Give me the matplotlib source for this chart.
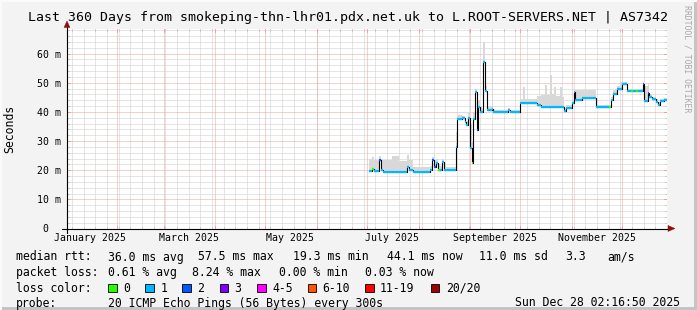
import numpy as np
import pandas as pd
import matplotlib
matplotlib.use('Agg')
import matplotlib.pyplot as plt
import matplotlib.dates as mdates
from matplotlib.patches import Polygon, Rectangle

# ---------------- data ----------------
title = "Last 360 Days from smokeping-thn-lhr01.pdx.net.uk to L.ROOT-SERVERS.NET | AS7342"
t_start = '2025-01-02T02:16:50'
t_end = '2025-12-28T02:16:50'

times = ['2025-07-02T12', '2025-07-04T00', '2025-07-05T07', '2025-07-08T07', '2025-07-09T12',
         '2025-07-10T17', '2025-07-16T00', '2025-07-20T00', '2025-07-25T00', '2025-07-26T07',
         '2025-07-28T17', '2025-08-08T00', '2025-08-09T00', '2025-08-10T07', '2025-08-11T12',
         '2025-08-12T17', '2025-08-14T00', '2025-08-15T00', '2025-08-16T00', '2025-08-23T12',
         '2025-08-24T07', '2025-08-27T00', '2025-08-29T00', '2025-08-29T12', '2025-08-30T22',
         '2025-08-31T22', '2025-09-01T22', '2025-09-02T22', '2025-09-03T22', '2025-09-04T22',
         '2025-09-05T22', '2025-09-06T22', '2025-09-07T22', '2025-09-08T22', '2025-09-09T22',
         '2025-09-10T22', '2025-09-13T22', '2025-09-14T22', '2025-09-16T00', '2025-09-23T17',
         '2025-09-25T00', '2025-09-30T22', '2025-10-02T22', '2025-10-03T22', '2025-10-11T00',
         '2025-10-13T07', '2025-10-15T22', '2025-10-16T22', '2025-10-18T22', '2025-10-19T22',
         '2025-10-21T07', '2025-10-22T07', '2025-10-24T22', '2025-10-25T22', '2025-10-27T00',
         '2025-10-28T12', '2025-10-31T22', '2025-11-02T07', '2025-11-03T00', '2025-11-06T22',
         '2025-11-15T19', '2025-11-23T12', '2025-11-24T12', '2025-11-25T17', '2025-11-27T22',
         '2025-11-29T22', '2025-11-30T22', '2025-12-04T07', '2025-12-06T12', '2025-12-07T12',
         '2025-12-09T12', '2025-12-10T12', '2025-12-13T12', '2025-12-14T07', '2025-12-14T22',
         '2025-12-16T12', '2025-12-17T12', '2025-12-18T22', '2025-12-21T12', '2025-12-22T22',
         '2025-12-23T22', '2025-12-26T00']

median_ms = [19.8, 20.5, 19.8, 23.5, 20.2,
             19.4, 19.4, 19.4, 21.2, 20.0,
             19.4, 20.0, 23.5, 21.0, 22.5,
             20.0, 20.0, 22.8, 20.0, 28.0,
             37.5, 37.8, 36.5, 35.4, 38.0,
             27.5, 22.3, 37.5, 46.8, 33.7,
             41.7, 40.0, 40.0, 57.1, 47.0,
             40.6, 41.1, 40.0, 39.8, 40.6,
             39.8, 42.9, 42.9, 42.9, 42.3,
             41.7, 41.7, 41.7, 41.7, 41.7,
             41.7, 41.7, 41.7, 41.7, 40.3,
             41.5, 42.9, 46.9, 44.0, 44.8,
             41.7, 41.7, 44.0, 46.3, 47.7,
             47.7, 49.7, 47.2, 47.2, 47.2,
             47.2, 47.2, 49.7, 43.8, 43.8,
             46.5, 45.1, 44.3, 43.4, 42.3,
             43.8, 44.1]

smoke_top_ms = [24.0, 24.5, 23.5, 25.0, 24.0,
                23.5, 24.8, 23.0, 25.2, 23.5,
                21.0, 21.5, 24.5, 23.5, 24.0,
                22.0, 21.5, 24.0, 21.0, 33.0,
                38.8, 38.5, 38.0, 37.0, 40.0,
                36.0, 30.0, 40.0, 48.0, 36.0,
                44.0, 42.0, 41.0, 64.0, 49.0,
                42.0, 66.6, 41.0, 40.8, 41.2,
                40.8, 44.5, 48.6, 44.5, 45.5,
                45.7, 49.1, 45.7, 52.6, 46.0,
                48.6, 45.5, 48.6, 45.0, 41.5,
                42.5, 44.0, 48.0, 47.4, 47.4,
                42.5, 42.5, 45.0, 47.5, 49.0,
                50.3, 50.3, 48.0, 48.0, 48.0,
                48.0, 48.0, 49.7, 49.7, 49.0,
                49.7, 46.0, 45.1, 44.5, 43.5,
                44.5, 44.8]

loss_class = [1, 0, 1, 2, 1,
              1, 1, 1, 1, 1,
              1, 1, 2, 2, 1,
              0, 1, 1, 1, 1,
              1, 1, 1, 1, 1,
              1, 0, 1, 1, 2,
              1, 1, 1, 1, 1,
              1, 1, 1, 1, 1,
              1, 1, 1, 1, 1,
              1, 1, 1, 1, 1,
              1, 1, 1, 1, 1,
              1, 1, 1, 1, 1,
              1, 0, 1, 1, 1,
              1, 1, 1, 0, 1,
              0, 1, 2, 1, 1,
              2, 1, 1, 1, 1,
              1, 1]

y_ticks = [0, 10, 20, 30, 40, 50, 60]
y_tick_labels = ['0  ', '10 m', '20 m', '30 m', '40 m', '50 m', '60 m']
y_max = 68.6
month_labels = ['January 2025', 'March 2025', 'May 2025', 'July 2025', 'September 2025', 'November 2025']
month_label_dates = ['2025-01-16', '2025-03-16', '2025-05-16', '2025-07-16', '2025-09-16', '2025-11-16']

loss_names = ['0', '1', '2', '3', '4-5', '6-10', '11-19', '20/20']
loss_colors = ['#26ff00', '#00b8ff', '#0059ff', '#7e00ff', '#ff00ff', '#ff5500', '#ff0000', '#a10000']

rtt_row = [('median rtt:', 15.6), ('36.0 ms avg', 107.6), ('57.5 ms max', 197.8), ('19.3 ms min', 293.3),
           ('44.1 ms now', 386.7), ('11.0 ms sd', 479.0), ('3.3', 565.0), ('am/s', 607.0)]
loss_row = [('packet loss:', 15.6), ('0.61 % avg', 107.6), ('8.24 % max', 192.0), ('0.00 % min', 279.0),
            ('0.03 % now', 365.3)]
loss_box_x = [108, 145.3, 182, 219.6, 257, 307.6, 365, 430.7]
probe_text = '20 ICMP Echo Pings (56 Bytes) every 300s'
stamp_text = 'Sun Dec 28 02:16:50 2025'

# ---------------- figure ----------------
W, H = 697, 310
MONO = 'DejaVu Sans Mono'
fig = plt.figure(figsize=(W / 100, H / 100), dpi=100)
fig.patch.set_facecolor('#f3f3f3')

def fx(px):
    return px / W

def fy(py):
    return 1 - py / H

ax_left, ax_top, ax_w, ax_h = 67, 28.5, 600, 200
ax = fig.add_axes([fx(ax_left), fy(ax_top + ax_h), ax_w / W, ax_h / H])
ax.set_facecolor('#ffffff')
for s in ax.spines.values():
    s.set_visible(False)

x0 = pd.Timestamp(t_start)
x1 = pd.Timestamp(t_end)
ax.set_xlim(x0, x1)
ax.set_ylim(0, y_max)

# grid
dot = (0, (1, 1))
minor_c = '#cccccc'
major_c = '#f2a0a0'
weeks = pd.date_range(x0.normalize(), x1, freq='W-SUN')
months = pd.date_range('2025-01-01', x1, freq='MS')
months = months[months > x0]
for d in weeks:
    ax.axvline(d, color=minor_c, lw=0.72, ls=dot, zorder=0.5)
    ax.plot([d, d], [0, 2 / ax_h], transform=ax.get_xaxis_transform(), color=minor_c, lw=0.72, zorder=0.6)
    ax.plot([d, d], [1 - 2 / ax_h, 1], transform=ax.get_xaxis_transform(), color=minor_c, lw=0.72, zorder=0.6)
for d in months:
    ax.axvline(d, color=major_c, lw=0.72, ls=dot, zorder=0.7)
    ax.plot([d, d], [0, 3 / ax_h], transform=ax.get_xaxis_transform(), color=major_c, lw=0.72, zorder=0.8)
    ax.plot([d, d], [1 - 3 / ax_h, 1], transform=ax.get_xaxis_transform(), color=major_c, lw=0.72, zorder=0.8)
for v in range(2, int(y_max) + 1, 2):
    major = (v % 10 == 0)
    c = major_c if major else minor_c
    ax.axhline(v, color=c, lw=0.72, ls=dot, zorder=0.7 if major else 0.5)
    L = 3 if major else 2
    ax.plot([0, L / ax_w], [v, v], transform=ax.get_yaxis_transform(), color=c, lw=0.72, zorder=0.8)
    ax.plot([1 - L / ax_w, 1], [v, v], transform=ax.get_yaxis_transform(), color=c, lw=0.72, zorder=0.8)

# data
t = pd.to_datetime(times)
t_next = list(t[1:]) + [x1]
t_ext = list(t) + [x1]
med_ext = median_ms + [median_ms[-1]]
hi_ext = smoke_top_ms + [smoke_top_ms[-1]]

ax.fill_between(t_ext, med_ext, hi_ext, step='post', color='#d8d8d8', lw=0, zorder=2)
ax.step(t_ext, med_ext, where='post', color='#000000', lw=0.8, zorder=3)
ax.hlines(median_ms, mdates.date2num(t), mdates.date2num(t_next),
          colors=[loss_colors[i] for i in loss_class], lw=1.6, zorder=4, capstyle='butt')

# ticks
ax.set_yticks(y_ticks, y_tick_labels)
ax.set_xticks(pd.to_datetime(month_label_dates), month_labels)
ax.tick_params(axis='both', length=0, labelsize=7.1, colors='#000000')
ax.tick_params(axis='y', pad=4.6)
ax.tick_params(axis='x', pad=3.4)
for lab in ax.get_xticklabels() + ax.get_yticklabels():
    lab.set_fontfamily(MONO)

# axes lines with arrows
ax.plot([-5 / ax_w, 1 + 2 / ax_w], [0, 0], transform=ax.transAxes, color='black', lw=0.8, clip_on=False, zorder=6)
ax.plot([0, 0], [-4.5 / ax_h, 1 + 2 / ax_h], transform=ax.transAxes, color='black', lw=0.8, clip_on=False, zorder=6)
arrow_c = '#8b1010'
ax.add_patch(Polygon([(1 + 1 / ax_w, 3 / ax_h), (1 + 8 / ax_w, 0), (1 + 1 / ax_w, -3 / ax_h)],
                     closed=True, transform=ax.transAxes, facecolor=arrow_c, edgecolor=arrow_c, lw=0.3,
                     clip_on=False, zorder=7))
ax.add_patch(Polygon([(-3 / ax_w, 1 + 1 / ax_h), (0, 1 + 7.5 / ax_h), (3 / ax_w, 1 + 1 / ax_h)],
                     closed=True, transform=ax.transAxes, facecolor=arrow_c, edgecolor=arrow_c, lw=0.3,
                     clip_on=False, zorder=7))

# texts
fig.text(fx(348.5), fy(17), title, ha='center', va='center', family=MONO, fontsize=9.5, color='#000000')
fig.text(fx(10), fy(128.5), 'Seconds', rotation=90, ha='center', va='center', family=MONO, fontsize=8.3)
fig.text(fx(687), fy(5), 'RRDTOOL / TOBI OETIKER', rotation=270, ha='center', va='top', family=MONO,
         fontsize=5.9, color='#a8a8a8')

row_y = [257, 272.5, 288, 303]
for s, x in rtt_row:
    fig.text(fx(x), fy(row_y[0]), s, ha='left', va='center', family=MONO, fontsize=8.3)
for s, x in loss_row:
    fig.text(fx(x), fy(row_y[1]), s, ha='left', va='center', family=MONO, fontsize=8.3)
fig.text(fx(15.6), fy(row_y[2]), 'loss color:', ha='left', va='center', family=MONO, fontsize=8.3)
box = 8.5
for name, c, bx in zip(loss_names, loss_colors, loss_box_x):
    fig.add_artist(Rectangle((fx(bx), fy(row_y[2] + box / 2)), box / W, box / H, transform=fig.transFigure,
                             facecolor=c, edgecolor='black', lw=0.6))
    fig.text(fx(bx + 15), fy(row_y[2]), name, ha='left', va='center', family=MONO, fontsize=8.3)
fig.text(fx(15.6), fy(row_y[3]), 'probe:', ha='left', va='center', family=MONO, fontsize=8.3)
fig.text(fx(107.6), fy(row_y[3]), probe_text, ha='left', va='center', family=MONO, fontsize=8.3)
fig.text(fx(680), fy(row_y[3]), stamp_text, ha='right', va='center', family=MONO, fontsize=8.3)

# frame shading
fig.add_artist(Rectangle((fx(694), 0), 3 / W, 1, transform=fig.transFigure, facecolor='#c4c4c4', lw=0))
fig.add_artist(Rectangle((0, 0), 1, 3 / H, transform=fig.transFigure, facecolor='#c4c4c4', lw=0))
fig.add_artist(Rectangle((0, 0), 2 / W, 1, transform=fig.transFigure, facecolor='#fafafa', lw=0))
fig.add_artist(Rectangle((0, fy(2)), 1, 2 / H, transform=fig.transFigure, facecolor='#fafafa', lw=0))

fig.savefig('out.png', dpi=100, facecolor=fig.get_facecolor())
